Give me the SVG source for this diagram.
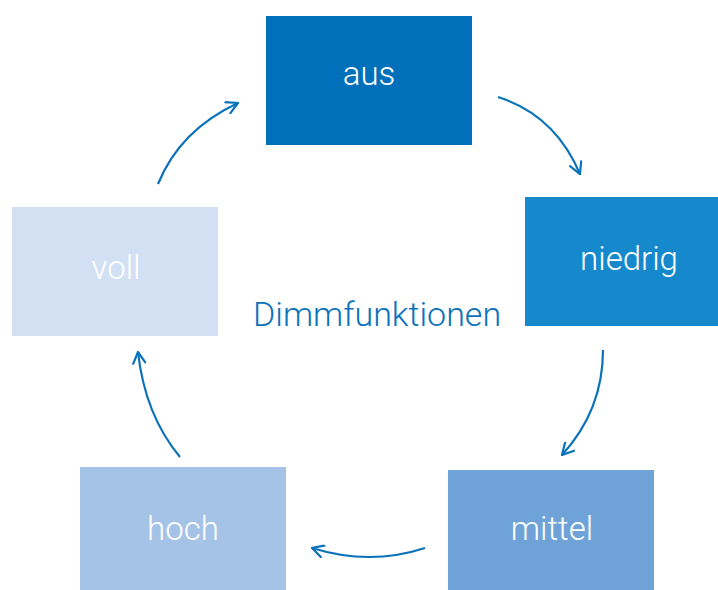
<svg xmlns="http://www.w3.org/2000/svg" width="718" height="590" viewBox="0 0 718 590">
<style>
.lbl{font-family:Roboto,"Liberation Sans",sans-serif;font-weight:300;font-size:33px;fill:#ffffff;text-anchor:middle}
.title{font-family:Roboto,"Liberation Sans",sans-serif;font-weight:300;font-size:34px;fill:#0A72BA}
.arr{fill:none;stroke:#0A72BA;stroke-width:2.2;marker-end:url(#ah)}
</style>
<defs>
<marker id="ah" viewBox="0 0 14 14" refX="13" refY="7" markerWidth="14" markerHeight="14" markerUnits="userSpaceOnUse" orient="auto">
<path d="M1,0.5 L13,7 L1,13.5" fill="none" stroke="#0A72BA" stroke-width="2.2"/>
</marker>
</defs>
<rect width="718" height="590" fill="#ffffff"/>
<g id="aus"><rect x="266" y="16" width="206" height="129" fill="#0070BA"/><text class="lbl" x="369" y="85">aus</text></g>
<g id="niedrig"><rect x="525" y="197" width="193" height="129" fill="#1589CB"/><text class="lbl" x="629" y="270">niedrig</text></g>
<g id="mittel"><rect x="448" y="470" width="206" height="120" fill="#6FA3D8"/><text class="lbl" x="552" y="540">mittel</text></g>
<g id="hoch"><rect x="80" y="467" width="206" height="123" fill="#A5C3E6"/><text class="lbl" x="183" y="540">hoch</text></g>
<g id="voll"><rect x="12" y="207" width="206" height="129" fill="#D3E0F4"/><text class="lbl" x="116" y="279">voll</text></g>
<text class="title" x="253" y="326">Dimmfunktionen</text>
<g id="connectors">
<path class="arr" d="M158,184 Q180,130 238,103"/>
<path class="arr" d="M498,97 Q555,115 580,174"/>
<path class="arr" d="M603,350 Q603,410 562,455"/>
<path class="arr" d="M425,548 Q370,566 312,548"/>
<path class="arr" d="M180,457 Q145,415 138,352"/>
</g>
</svg>
